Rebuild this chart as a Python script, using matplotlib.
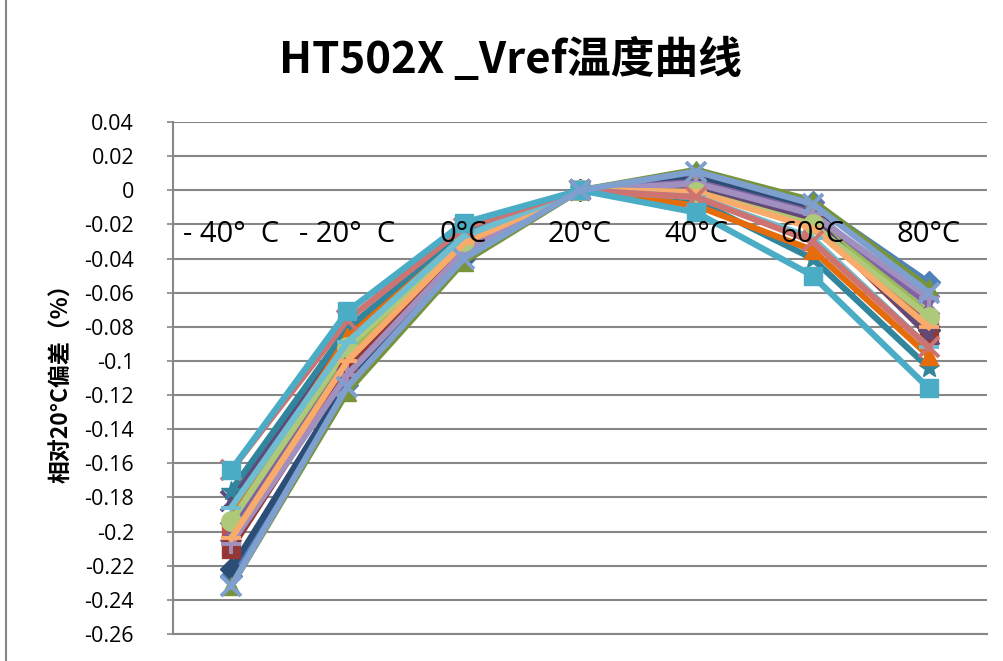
import matplotlib
matplotlib.use('Agg')
import matplotlib.pyplot as plt
from matplotlib.lines import Line2D

plt.rcParams['font.family'] = ['Open Sans', 'Noto Sans CJK SC', 'DejaVu Sans']

# 温度点 (x 轴分类)
categories = ['- 40°  C', '- 20°  C', '0°C', '20°C', '40°C', '60°C', '80°C']

# 各样品相对 20°C 的偏差 (%)
s_blue_diamond = [-0.226, -0.114, -0.040, 0, 0.010, -0.007, -0.054]
s_darkblue     = [-0.222, -0.112, -0.039, 0, 0.008, -0.010, -0.082]
s_red          = [-0.198, -0.094, -0.031, 0, 0.001, -0.020, -0.078]
s_green        = [-0.202, -0.097, -0.032, 0, 0.002, -0.016, -0.072]
s_purple       = [-0.200, -0.100, -0.034, 0, 0.005, -0.013, -0.067]
s_darkred_sq   = [-0.210, -0.105, -0.035, 0, 0.002, -0.018, -0.085]
s_green_tri    = [-0.232, -0.118, -0.042, 0, 0.012, -0.006, -0.057]
s_purple_x     = [-0.182, -0.083, -0.028, 0, 0.003, -0.016, -0.085]
s_teal_star    = [-0.176, -0.081, -0.025, 0, -0.006, -0.040, -0.104]
s_orange_tri   = [-0.192, -0.086, -0.028, 0, -0.009, -0.035, -0.097]
s_ltpurple_pl  = [-0.207, -0.108, -0.036, 0, 0.004, -0.014, -0.063]
s_green_circle = [-0.194, -0.092, -0.030, 0, -0.001, -0.020, -0.074]
s_ltorange_dash = [-0.204, -0.100, -0.031, 0, -0.001, -0.022, -0.080]
s_ltaqua_dash  = [-0.186, -0.089, -0.027, 0, -0.004, -0.028, -0.092]
s_pink_x       = [-0.164, -0.076, -0.022, 0, -0.004, -0.030, -0.092]
s_aqua_square  = [-0.164, -0.071, -0.019, 0, -0.013, -0.050, -0.116]
s_ltblue_x     = [-0.232, -0.115, -0.040, 0, 0.011, -0.008, -0.060]

# (数据, 颜色, 标记) 按 Excel 绘制顺序
series = [
    (s_blue_diamond, '#4F81BD', 'D'),
    (s_darkblue, '#2C4D75', 'D'),
    (s_red, '#C0504D', 's'),
    (s_green, '#9BBB59', '^'),
    (s_purple, '#8064A2', 'x'),
    (s_darkred_sq, '#953735', 's'),
    (s_green_tri, '#77933C', '^'),
    (s_purple_x, '#604A7B', 'x'),
    (s_teal_star, '#31859C', '*'),
    (s_orange_tri, '#E46C0A', '^'),
    (s_ltpurple_pl, '#A190BF', '+'),
    (s_green_circle, '#AFC97A', 'o'),
    (s_ltorange_dash, '#F9AB6B', '_'),
    (s_ltaqua_dash, '#6FBDD1', '_'),
    (s_pink_x, '#CD7371', 'x'),
    (s_aqua_square, '#4BACC6', 's'),
    (s_ltblue_x, '#7F9FCF', 'x'),
]

# 标记大小
msize = {'D': 11, 's': 13, '^': 13, 'o': 14, 'x': 14, '+': 14, '_': 15, '*': 15}

yticks = [0.04, 0.02, 0, -0.02, -0.04, -0.06, -0.08, -0.1, -0.12, -0.14,
          -0.16, -0.18, -0.2, -0.22, -0.24, -0.26]

fig = plt.figure(figsize=(10.04, 6.61), dpi=100)
ax = fig.add_axes([0.1723, 0.0408, 0.8107, 0.7746])

x = list(range(len(categories)))
for vals, col, mk in series:
    ax.plot(x, vals, color=col, lw=4.5, marker=mk, ms=msize[mk], mec=col, mfc=col,
            mew=2.8 if mk in ('x', '+', '_') else 1, zorder=3)

ax.set_xlim(-0.5, len(categories) - 0.5)
ax.set_ylim(-0.26, 0.04)
ax.set_yticks(yticks)
ax.set_yticklabels(['%g' % v for v in yticks], fontsize=15.5)
ax.set_xticks([])
ax.grid(axis='y', color='#878787', lw=1.5, zorder=0)
ax.tick_params(axis='y', length=4, color='#878787', width=1.2, pad=24)

for side in ['top', 'right']:
    ax.spines[side].set_visible(False)
for side in ['left', 'bottom']:
    ax.spines[side].set_color('#878787')
    ax.spines[side].set_linewidth(1.5)

# 分类标签放在 0 线下方, 盖在曲线上面
for i, lab in enumerate(categories):
    ax.text(i, -0.026, lab, ha='center', va='center', fontsize=21,
            family=['Open Sans', 'Noto Sans CJK SC'], zorder=6)

ax.set_ylabel('相对20°C偏差（%）', fontsize=16.5, fontweight='bold',
              family=['Noto Sans CJK SC', 'DejaVu Sans'], labelpad=8)

fig.text(0.508, 0.909, 'HT502X _Vref温度曲线', ha='center', va='center',
         fontsize=31.5, fontweight='bold', family=['Noto Sans CJK SC', 'DejaVu Sans'])

fig.add_artist(Line2D([6 / 1004, 6 / 1004], [0, 1], color='#878787', lw=1.5))

fig.savefig('out.png', dpi=100)
